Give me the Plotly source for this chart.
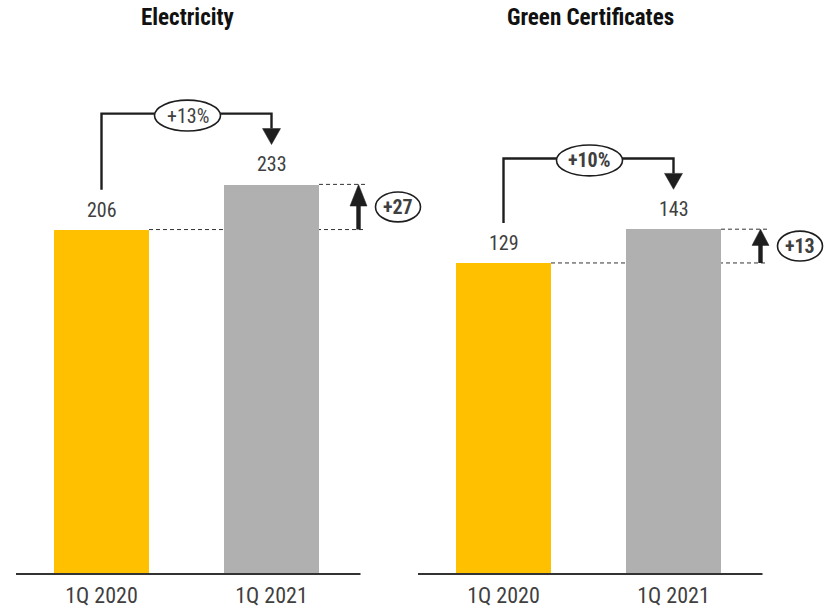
import plotly.graph_objects as go

# ---- data ----
periods = ["1Q 2020", "1Q 2021"]
electricity = [206, 233]
green_certificates = [129, 143]
panel_titles = ["Electricity", "Green Certificates"]
growth_pct = ["+13%", "+10%"]
growth_abs = ["+27", "+13"]

# ---- style ----
W, H = 831, 608
FONT = "Roboto Condensed, Liberation Sans Narrow, Arial Narrow, sans-serif"
TXT = "#3f3f3f"
INK = "#1e1e1e"
BAR_COLORS = ["#FFC000", "#B0B0B0"]
PX_PER_CAT = 170.0          # pixels between the two category centres
PLOT_TOP, PLOT_BOT, BASE = 40, 579, 576

panels = [
    dict(values=electricity, title=panel_titles[0], pct=growth_pct[0], pct_bold=False,
         absd=growth_abs[0], px_left=16, px_right=428, first_center=101.5, ymax=319.4),
    dict(values=green_certificates, title=panel_titles[1], pct=growth_pct[1], pct_bold=True,
         absd=growth_abs[1], px_left=418, px_right=831, first_center=503.5, ymax=221.5),
]

fig = go.Figure()
shapes, annotations = [], []
layout_axes = {}

for i, p in enumerate(panels):
    n = "" if i == 0 else str(i + 1)
    xa, ya = "x" + n, "y" + n
    v0, v1 = p["values"]
    scale = (BASE - PLOT_TOP) / p["ymax"]          # px per unit on y
    ux = lambda px: px / PX_PER_CAT                 # px -> x units
    uy = lambda px, s=scale: px / s                 # px -> y units

    xmin = (p["px_left"] - p["first_center"]) / PX_PER_CAT
    xmax = (p["px_right"] - p["first_center"]) / PX_PER_CAT
    ymin = -(PLOT_BOT - BASE) / scale

    layout_axes["xaxis" + n] = dict(
        domain=[p["px_left"] / W, p["px_right"] / W], range=[xmin, xmax],
        anchor=ya, showgrid=False, zeroline=False, showline=False,
        tickvals=[0, 1], ticktext=periods, ticks="",
        tickfont=dict(family=FONT, size=22, color=TXT), ticklabelstandoff=3,
        fixedrange=True)
    layout_axes["yaxis" + n] = dict(
        domain=[(H - PLOT_BOT) / H, (H - PLOT_TOP) / H], range=[ymin, p["ymax"]],
        anchor=xa, visible=False, fixedrange=True)

    bar_w = 95 / PX_PER_CAT
    fig.add_trace(go.Bar(x=[0, 1], y=p["values"], width=bar_w,
                         marker=dict(color=BAR_COLORS, line=dict(width=0)),
                         xaxis=xa, yaxis=ya, showlegend=False, hoverinfo="skip"))

    # value labels above the bars
    for x, v in zip([0, 1], p["values"]):
        annotations.append(dict(x=x, y=v, xref=xa, yref=ya, text=str(v), showarrow=False,
                                yanchor="bottom", yshift=6,
                                font=dict(family=FONT, size=20, color=TXT)))

    # baseline
    x_base_end = ux(259)
    shapes.append(dict(type="line", xref=xa, yref=ya, x0=xmin, x1=x_base_end, y0=0, y1=0,
                       line=dict(color="#333333", width=2)))

    # dashed reference lines at both bar tops
    x_dash_end = ux(264)
    dash = dict(color="#333333", width=1, dash="4px,3px")
    shapes.append(dict(type="line", xref=xa, yref=ya, layer="below",
                       x0=bar_w / 2, x1=x_dash_end, y0=v0, y1=v0, line=dash))
    shapes.append(dict(type="line", xref=xa, yref=ya, layer="below",
                       x0=1 + bar_w / 2, x1=x_dash_end, y0=v1, y1=v1, line=dash))

    # upward delta arrow
    xa_up = ux(257)
    span_px = (v1 - v0) * scale
    head_len, head_half, shaft_half = uy(0.48 * span_px), ux(8.5), ux(2.2)
    shapes.append(dict(type="rect", xref=xa, yref=ya, x0=xa_up - shaft_half, x1=xa_up + shaft_half,
                       y0=v0, y1=v1 - head_len + uy(1), fillcolor=INK, line=dict(width=0)))
    shapes.append(dict(type="path", xref=xa, yref=ya,
                       path=f"M {xa_up - head_half} {v1 - head_len} L {xa_up + head_half} {v1 - head_len} "
                            f"L {xa_up} {v1} Z", fillcolor=INK, line=dict(color=INK, width=0.5)))

    # absolute delta bubble
    cx, cy = ux(296.5), (v0 + v1) / 2
    shapes.append(dict(type="circle", xref=xa, yref=ya, x0=cx - ux(22.5), x1=cx + ux(22.5),
                       y0=cy - uy(15), y1=cy + uy(15), fillcolor="white",
                       line=dict(color=INK, width=1.6)))
    annotations.append(dict(x=cx, y=cy, xref=xa, yref=ya, text="<b>" + p["absd"] + "</b>",
                            showarrow=False, font=dict(family=FONT, size=20, color=TXT)))

    # growth bracket from first bar to second bar
    top = v1 + uy(71)
    left_start = v0 + uy(40)
    tip = v1 + uy(40)
    bh_len, bh_half = uy(16), ux(9)
    shapes.append(dict(type="path", xref=xa, yref=ya,
                       path=f"M 0 {left_start} L 0 {top} L 1 {top} L 1 {tip + bh_len}",
                       line=dict(color=INK, width=2.4)))
    shapes.append(dict(type="path", xref=xa, yref=ya,
                       path=f"M {1 - bh_half} {tip + bh_len} L {1 + bh_half} {tip + bh_len} L 1 {tip} Z",
                       fillcolor=INK, line=dict(color=INK, width=0.5)))
    ex, ey = 0.5 + ux(1), top - uy(2)
    shapes.append(dict(type="circle", xref=xa, yref=ya, x0=ex - ux(33), x1=ex + ux(33),
                       y0=ey - uy(15.5), y1=ey + uy(15.5), fillcolor="white",
                       line=dict(color=INK, width=1.6)))
    pct_txt = "<b>" + p["pct"] + "</b>" if p["pct_bold"] else p["pct"]
    annotations.append(dict(x=ex, y=ey, xref=xa, yref=ya, text=pct_txt, showarrow=False,
                            font=dict(family=FONT, size=20, color=TXT)))

    # panel title, centred over the baseline
    annotations.append(dict(x=(xmin + x_base_end) / 2, y=(H - 18) / H,
                            xref=xa, yref="paper", yanchor="middle",
                            text="<b>" + p["title"] + "</b>", showarrow=False,
                            font=dict(family=FONT, size=23, color="#111111")))

fig.update_layout(
    width=W, height=H, margin=dict(l=0, r=0, t=0, b=0),
    paper_bgcolor="white", plot_bgcolor="white",
    shapes=shapes, annotations=annotations, bargap=0,
    **layout_axes,
)

fig.write_html("out.html")
